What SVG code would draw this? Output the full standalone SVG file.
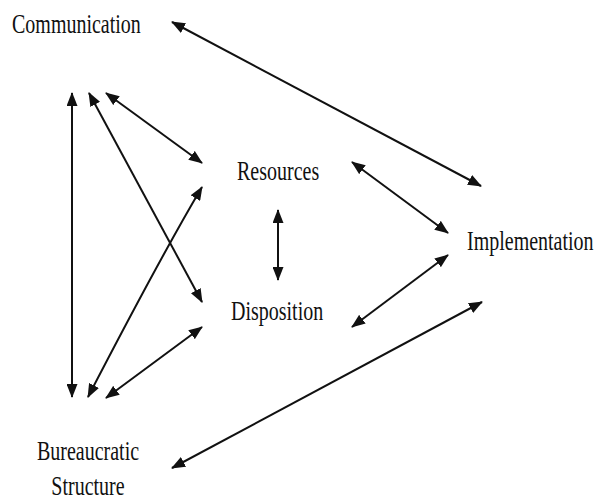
<svg xmlns="http://www.w3.org/2000/svg" width="594" height="501" viewBox="0 0 594 501">
<style>
.lbl{font-family:"Liberation Serif","Times New Roman",serif;font-size:20px;fill:#111;}
.c{fill:none;stroke:#111;stroke-width:2;marker-start:url(#ah);marker-end:url(#ah);}
</style>
<defs>
<marker id="ah" viewBox="0 0 14 11" refX="13" refY="5.5" markerWidth="14" markerHeight="11" markerUnits="userSpaceOnUse" orient="auto-start-reverse">
<path d="M0,0 L14,5.5 L0,11 z" fill="#111"/>
</marker>
</defs>
<rect width="594" height="501" fill="#fff"/>
<g id="communication"><text class="lbl" transform="translate(12,33) scale(1,1.35)">Communication</text></g>
<g id="resources"><text class="lbl" transform="translate(237,180) scale(1,1.35)">Resources</text></g>
<g id="implementation"><text class="lbl" transform="translate(467,250) scale(1,1.35)">Implementation</text></g>
<g id="disposition"><text class="lbl" transform="translate(231,320) scale(1,1.35)">Disposition</text></g>
<g id="bureaucratic"><text class="lbl" text-anchor="middle" transform="translate(88,460) scale(1,1.35)">Bureaucratic</text><text class="lbl" text-anchor="middle" transform="translate(88,495) scale(1,1.35)">Structure</text></g>
<g id="connectors">
<line class="c" x1="172" y1="22" x2="481" y2="186"/>
<line class="c" x1="72" y1="93" x2="72" y2="397"/>
<line class="c" x1="89" y1="93" x2="202" y2="302"/>
<line class="c" x1="106" y1="93" x2="202" y2="163"/>
<path class="c" d="M202,187 Q160,258 88,397"/>
<line class="c" x1="202" y1="327" x2="106" y2="398"/>
<line class="c" x1="278" y1="210" x2="278" y2="280"/>
<line class="c" x1="352" y1="162" x2="448" y2="233"/>
<line class="c" x1="448" y1="255" x2="352" y2="327"/>
<line class="c" x1="482" y1="302" x2="172" y2="468"/>
</g>
</svg>
